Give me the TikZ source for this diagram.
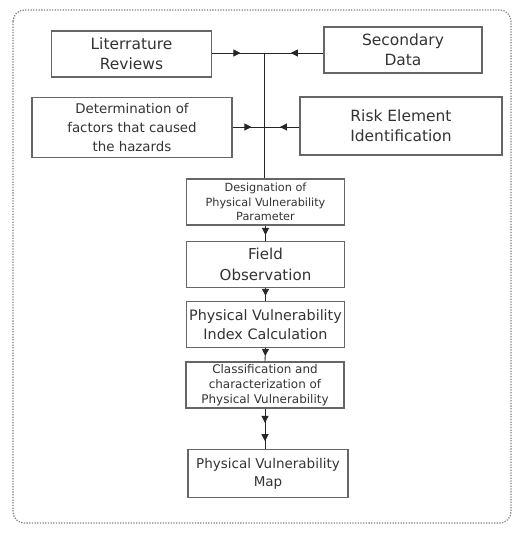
\documentclass[tikz,border=0pt]{standalone}
\usepackage{fontspec}
\setmainfont{DejaVu Sans}
\usetikzlibrary{arrows.meta,decorations.markings}

\begin{document}
\begin{tikzpicture}[x=0.025cm,y=-0.025cm,line width=0.6pt,draw=black!85,
    box/.style={draw=black!60,line width=0.8pt,align=center,inner sep=0pt,text=black!80},
    mid/.style={postaction={decorate},decoration={markings,mark=at position #1 with {\arrow{Triangle[length=5pt,width=5pt]}}}},
    twomid/.style 2 args={postaction={decorate},decoration={markings,
        mark=at position #1 with {\arrow{Triangle[length=5pt,width=5pt]}},
        mark=at position #2 with {\arrow{Triangle[length=5pt,width=5pt]}}}}]
    \useasboundingbox (0,0) rectangle (513,533);
    \draw[black!50,densely dotted,line width=0.9pt,rounded corners=8pt] (13,10) rectangle (511,523);

    \node[box,minimum width=3.98cm,minimum height=1.15cm,font=\fontsize{11}{14}\selectfont] (1) at (131.5,54) {Literrature\\Reviews};
    \node[box,minimum width=3.95cm,minimum height=1.15cm,font=\fontsize{11}{14}\selectfont] (2) at (403,50) {Secondary\\Data};
    \node[box,minimum width=5cm,minimum height=1.48cm,font=\fontsize{9.5}{13.5}\selectfont] (3) at (132,127.5) {Determination of\\factors that caused\\the hazards};
    \node[box,minimum width=5.05cm,minimum height=1.45cm,font=\fontsize{11}{14.5}\selectfont] (4) at (401,126) {Risk Element\\Identification};

    \node[box,minimum width=3.93cm,minimum height=1.15cm,font=\fontsize{8}{10.5}\selectfont] (5) at (265.5,202) {Designation of\\Physical Vulnerability\\Parameter};
    \node[box,minimum width=3.93cm,minimum height=1.13cm,font=\fontsize{10.7}{15}\selectfont] (6) at (265.5,264.5) {Field\\Observation};
    \node[box,minimum width=3.93cm,minimum height=1.13cm,font=\fontsize{10.2}{13.5}\selectfont] (7) at (265.5,324.5) {Physical Vulnerability\\Index Calculation};
    \node[box,minimum width=3.95cm,minimum height=1.15cm,font=\fontsize{8.5}{10.5}\selectfont] (8) at (265,385) {Classification and\\characterization of\\Physical Vulnerability};
    \node[box,minimum width=4cm,minimum height=1.18cm,font=\fontsize{9.6}{13}\selectfont] (9) at (268,473.5) {Physical Vulnerability\\Map};

    \coordinate (t1) at (264,53);
    \coordinate (t2) at (264,127);

    % inputs to the trunk
    \draw[mid=0.55] (1.east |- t1) -- (t1);
    \draw[mid=0.55] (2.west |- t1) -- (t1);
    \draw[mid=0.6] (3.east |- t2) -- (t2);
    \draw[mid=0.55] (4.west |- t2) -- (t2);
    \draw (t1) -- (t1 |- 5.north);

    % main flow
    \draw[mid=0.6] (5.south) -- (6.north);
    \draw[mid=0.6] (6.south) -- (7.north);
    \draw[mid=0.6] (7.south) -- (8.north);
    \draw[twomid={0.35}{0.8}] (8.south) -- (8.south |- 9.north);
\end{tikzpicture}
\end{document}
